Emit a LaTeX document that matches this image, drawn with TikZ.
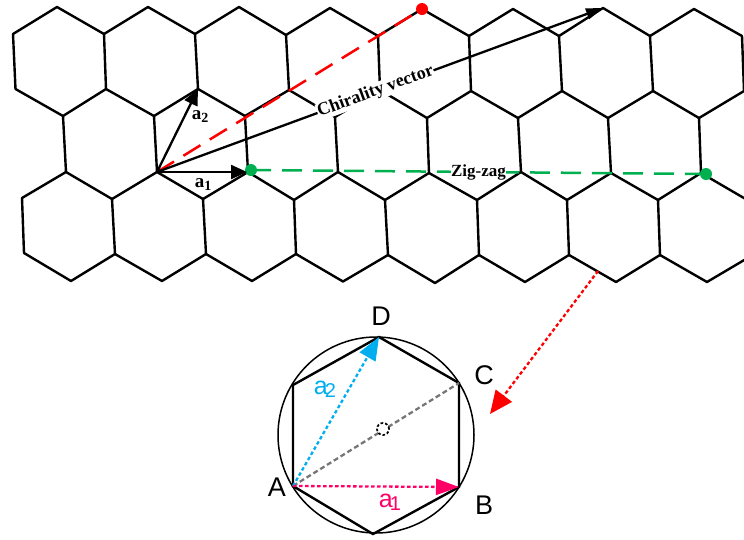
\documentclass[tikz,border=0pt]{standalone}
\usepackage{fontspec}
\setmainfont{Liberation Serif}
\newfontfamily\lsans{Liberation Sans}
\usetikzlibrary{arrows.meta}
\definecolor{rdash}{RGB}{255,0,0}
\definecolor{gdash}{RGB}{0,176,80}
\definecolor{skyb}{RGB}{0,174,239}
\definecolor{pinkr}{RGB}{255,0,102}
\definecolor{graydash}{RGB}{118,118,118}
\tikzset{
  bond/.style={draw=black,line width=2.4pt,line join=round,line cap=round},
  vec/.style={draw=black,line width=2.3pt,-{Stealth[length=16pt,width=14pt,inset=0pt]},shorten >=0pt},
  longdash/.style={line width=2.5pt,dash pattern=on 20pt off 11pt},
  dotline/.style={line width=2.3pt,dash pattern=on 3.5pt off 2.5pt},
  dotbig/.style={circle,inner sep=0pt,minimum size=12pt},
  latlabel/.style={font=\fontsize{18}{18}\selectfont\bfseries,inner sep=0.5pt},
  letter/.style={font=\lsans\fontsize{27}{27}\selectfont,inner sep=0pt},
  sublabel/.style={font=\lsans\fontsize{25}{25}\selectfont,inner sep=0pt},
}
\begin{document}
\begin{tikzpicture}[x=1pt,y=-1pt]
\useasboundingbox (0,0) rectangle (744,539);
\clip (0,0) rectangle (744,539);
\foreach \n/\x/\y in {0/57/7,1/148/7,2/239/7,3/330/8,4/422/9,5/513/9,6/603/8,7/694/9}
  \coordinate (T\n) at (\x,\y);
\foreach \n/\x/\y in {0/13/34,1/104/34,2/195/34,3/286/35,4/378/36,5/469/36,6/559/36,7/650/36,8/742/36}
  \coordinate (U\n) at (\x,\y);
\foreach \n/\x/\y in {0/15.5/89,1/106/89,2/198/89,3/289/90,4/380/90,5/471/91,6/562/91,7/653/91,8/744/91}
  \coordinate (M\n) at (\x,\y);
\foreach \n/\x/\y in {0/63/116,1/154/116,2/245/116,3/335/117,4/427/118,5/518/118,6/608/118,7/699/118}
  \coordinate (B\n) at (\x,\y);
\foreach \n/\x/\y in {0/66/172,1/157/172,2/248/172,3/338/172,4/429/173,5/521/172,6/611/173,7/701/173}
  \coordinate (C\n) at (\x,\y);
\foreach \n/\x/\y in {0/22/198,1/112/199,2/203/199,3/294/200,4/385/200,5/477/200,6/567/200,7/658/200,8/749/201}
  \coordinate (D\n) at (\x,\y);
\foreach \n/\x/\y in {0/24/253,1/115/254,2/206/254,3/296/254,4/388/255,5/479/255,6/569/255,7/660/255,8/751/256}
  \coordinate (E\n) at (\x,\y);
\foreach \n/\x/\y in {0/71/281,1/162/281,2/252/281,3/343/281.5,4/435/283,5/525/282,6/616/282,7/707/282}
  \coordinate (F\n) at (\x,\y);
% zig-zag rows
\foreach \i [evaluate=\i as \j using int(\i+1)] in {0,...,7}{
  \draw[bond] (U\i) -- (T\i) -- (U\j);
  \draw[bond] (M\i) -- (B\i) -- (M\j);
  \draw[bond] (D\i) -- (C\i) -- (D\j);
  \draw[bond] (E\i) -- (F\i) -- (E\j);
}
% vertical bonds
\foreach \i in {0,...,8}{
  \draw[bond] (U\i) -- (M\i);
  \draw[bond] (D\i) -- (E\i);
}
\foreach \i in {0,...,7}{
  \draw[bond] (B\i) -- (C\i);
}
% lattice vectors
\coordinate (O) at (C1);
\coordinate (Red) at (T4);
\coordinate (Gl) at (251,170);
\coordinate (Gr) at (706,174);
\draw[rdash,longdash] (O) -- (Red);
\draw[gdash,longdash] (Gl) -- node[pos=.5,latlabel,text=black,fill=white,font=\fontsize{17}{17}\selectfont\bfseries] (zz) {Zig-zag} (Gr);
\node[dotbig,fill=rdash] (reddot) at (Red) {};
\node[dotbig,fill=gdash] (gl) at (Gl) {};
\node[dotbig,fill=gdash] (gr) at (Gr) {};
\draw[vec] (O) -- (247,172);
\draw[vec] (O) -- (M2);
\draw[vec,-{Stealth[length=17pt,width=11pt,inset=0pt]}] (O) -- node[pos=.49,sloped,latlabel,fill=white] (ch) {Chirality vector} (T6);
\node[latlabel,anchor=base,font=\fontsize{19}{19}\selectfont\bfseries] (a1) at (203,187) {a\raisebox{-3pt}{\fontsize{14}{14}\selectfont 1}};
\node[latlabel,anchor=base,font=\fontsize{19}{19}\selectfont\bfseries] (a2) at (200,119) {a\raisebox{-3pt}{\fontsize{14}{14}\selectfont 2}};
% detail hexagon
\node[draw=black,line width=1.5pt,circle,inner sep=0pt,minimum size=196pt] (circ) at (376,435) {};
\coordinate (A) at (293,486);
\coordinate (HL) at (293,385);
\coordinate (Dv) at (379,337);
\coordinate (Cv) at (459,383);
\coordinate (Bv) at (459,487);
\coordinate (HB) at (373,534);
\draw[bond,line cap=butt,line join=miter] (A) -- (HL) -- (Dv) -- (Cv) -- (Bv) -- (HB) -- cycle;
\draw[graydash,line width=2.3pt,dash pattern=on 5pt off 3pt] (A) -- (Cv);
\node[draw=black,fill=white,line width=1.7pt,dash pattern=on 2.6pt off 2pt,circle,inner sep=0pt,minimum size=12pt] (ctr) at (383,429) {};
\draw[skyb,dotline,-{Stealth[length=23pt,width=18pt,inset=0pt]}] (A) -- (Dv);
\draw[pinkr,dotline,-{Stealth[length=23pt,width=16pt,inset=0pt]}] (A) -- (Bv);
\coordinate (Rs) at (598,271);
\coordinate (Re) at (490,414);
\draw[rdash,dotline,-{Stealth[length=23pt,width=20pt,inset=0pt]}] (Rs) -- (Re);
\node[letter] (lD) at (381,316) {D};
\node[letter] (lC) at (484,375) {C};
\node[letter] (lA) at (277,487) {A};
\node[letter] (lB) at (484,505) {B};
\node[sublabel,text=pinkr] (s1) at (390,502) {a\kern-3pt\raisebox{-3pt}{\fontsize{20}{20}\selectfont 1}};
\node[sublabel,text=skyb] (s2) at (325,389) {a\kern-3pt\raisebox{-3pt}{\fontsize{20}{20}\selectfont 2}};
\end{tikzpicture}
\end{document}
